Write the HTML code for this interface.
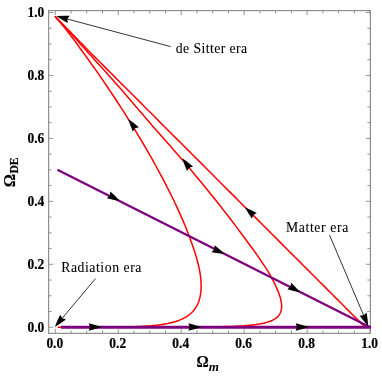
<!DOCTYPE html>
<html><head><meta charset="utf-8"><title>Phase plot</title>
<style>
html,body{margin:0;padding:0;background:#fff;}
svg{display:block;will-change:transform;opacity:0.9999}
text{font-family:"Liberation Serif",serif;fill:#000}
.tl{font-weight:bold;font-size:14.4px;stroke:#000;stroke-width:0.2px}
.an{font-size:13.7px;stroke:#000;stroke-width:0.08px}
.ax{font-weight:bold;font-size:16.8px;stroke:#000;stroke-width:0.15px}
.sub{font-weight:bold;font-size:12px;stroke:#000;stroke-width:0.2px}
.subm{font-weight:bold;font-style:italic;font-size:13px}
</style></head><body>
<svg width="382" height="382" viewBox="0 0 382 382">
<rect width="382" height="382" fill="#fff"/>
<rect x="48.65" y="10.6" width="321.75" height="322.75" fill="none" stroke="#8a8a8a" stroke-width="1.15"/>
<path d="M55.30 333.35v-4.6M55.30 10.6v4.6M48.65 327.25h4.6M370.4 327.25h-4.6M71.04 333.35v-3.0M71.04 10.6v3.0M48.65 311.51h3.0M370.4 311.51h-3.0M86.78 333.35v-3.0M86.78 10.6v3.0M48.65 295.77h3.0M370.4 295.77h-3.0M102.52 333.35v-3.0M102.52 10.6v3.0M48.65 280.04h3.0M370.4 280.04h-3.0M118.26 333.35v-4.6M118.26 10.6v4.6M48.65 264.30h4.6M370.4 264.30h-4.6M134.00 333.35v-3.0M134.00 10.6v3.0M48.65 248.56h3.0M370.4 248.56h-3.0M149.74 333.35v-3.0M149.74 10.6v3.0M48.65 232.82h3.0M370.4 232.82h-3.0M165.48 333.35v-3.0M165.48 10.6v3.0M48.65 217.09h3.0M370.4 217.09h-3.0M181.22 333.35v-4.6M181.22 10.6v4.6M48.65 201.35h4.6M370.4 201.35h-4.6M196.96 333.35v-3.0M196.96 10.6v3.0M48.65 185.61h3.0M370.4 185.61h-3.0M212.70 333.35v-3.0M212.70 10.6v3.0M48.65 169.88h3.0M370.4 169.88h-3.0M228.44 333.35v-3.0M228.44 10.6v3.0M48.65 154.14h3.0M370.4 154.14h-3.0M244.18 333.35v-4.6M244.18 10.6v4.6M48.65 138.40h4.6M370.4 138.40h-4.6M259.92 333.35v-3.0M259.92 10.6v3.0M48.65 122.66h3.0M370.4 122.66h-3.0M275.66 333.35v-3.0M275.66 10.6v3.0M48.65 106.92h3.0M370.4 106.92h-3.0M291.40 333.35v-3.0M291.40 10.6v3.0M48.65 91.19h3.0M370.4 91.19h-3.0M307.14 333.35v-4.6M307.14 10.6v4.6M48.65 75.45h4.6M370.4 75.45h-4.6M322.88 333.35v-3.0M322.88 10.6v3.0M48.65 59.71h3.0M370.4 59.71h-3.0M338.62 333.35v-3.0M338.62 10.6v3.0M48.65 43.97h3.0M370.4 43.97h-3.0M354.36 333.35v-3.0M354.36 10.6v3.0M48.65 28.24h3.0M370.4 28.24h-3.0M370.10 333.35v-4.6M370.10 10.6v4.6M48.65 12.50h4.6M370.4 12.50h-4.6" stroke="#8a8a8a" stroke-width="0.9" fill="none"/>
<text x="46.40" y="348.1" class="tl" textLength="16.8" lengthAdjust="spacingAndGlyphs">0.0</text>
<text x="27.50" y="331.85" class="tl" textLength="16.8" lengthAdjust="spacingAndGlyphs">0.0</text>
<text x="109.36" y="348.1" class="tl" textLength="16.8" lengthAdjust="spacingAndGlyphs">0.2</text>
<text x="27.50" y="268.90" class="tl" textLength="16.8" lengthAdjust="spacingAndGlyphs">0.2</text>
<text x="172.32" y="348.1" class="tl" textLength="16.8" lengthAdjust="spacingAndGlyphs">0.4</text>
<text x="27.50" y="205.95" class="tl" textLength="16.8" lengthAdjust="spacingAndGlyphs">0.4</text>
<text x="235.28" y="348.1" class="tl" textLength="16.8" lengthAdjust="spacingAndGlyphs">0.6</text>
<text x="27.50" y="143.00" class="tl" textLength="16.8" lengthAdjust="spacingAndGlyphs">0.6</text>
<text x="298.24" y="348.1" class="tl" textLength="16.8" lengthAdjust="spacingAndGlyphs">0.8</text>
<text x="27.50" y="80.05" class="tl" textLength="16.8" lengthAdjust="spacingAndGlyphs">0.8</text>
<text x="361.20" y="348.1" class="tl" textLength="16.8" lengthAdjust="spacingAndGlyphs">1.0</text>
<text x="27.50" y="17.10" class="tl" textLength="16.8" lengthAdjust="spacingAndGlyphs">1.0</text>
<path d="M196.3 327.2 L198.3 327.2 L200.2 327.2 L202.2 327.2 L204.2 327.2 L206.2 327.2 L208.2 327.2 L210.2 327.2 L212.1 327.2 L214.1 327.2 L216.1 327.2 L218.1 327.2 L220.1 327.2 L222.1 327.2 L224.0 327.2 L226.0 327.2 L228.0 327.2 L229.9 327.2 L231.9 327.2 L233.8 327.2 L235.8 327.2 L237.7 327.2 L239.6 327.2 L241.5 327.2 L243.4 327.2 L245.3 327.2 L247.2 327.2 L249.1 327.2 L250.9 327.2 L252.8 327.2 L254.6 327.2 L256.4 327.2 L258.2 327.2 L260.0 327.2 L261.8 327.2 L263.6 327.2 L265.3 327.2 L267.0 327.2 L268.8 327.2 L270.5 327.2 L272.1 327.2 L273.8 327.2 L275.4 327.2 L277.1 327.2 L278.7 327.2 L280.3 327.2 L281.9 327.2 L283.4 327.2 L285.0 327.2 L286.5 327.2 L288.0 327.2 L289.5 327.2 L290.9 327.2 L292.4 327.2 L293.8 327.2 L295.2 327.2 L296.6 327.2 L298.0 327.2 L299.3 327.2 L300.6 327.2 L301.9 327.2 L303.2 327.2 L304.5 327.2 L305.8 327.2 L307.0 327.2 L308.2 327.2 L309.4 327.2 L310.6 327.2 L311.7 327.2 L312.8 327.2 L314.0 327.2 L315.1 327.2 L316.1 327.2 L317.2 327.2 L318.2 327.2 L319.3 327.2 L320.3 327.2 L321.2 327.2 L322.2 327.2 L323.2 327.2 L324.1 327.2 L325.0 327.2 L325.9 327.2 L326.8 327.2 L327.7 327.2 L328.5 327.2 L329.3 327.2 L330.2 327.2 L331.0 327.2 L331.7 327.2 L332.5 327.2 L333.3 327.2 L334.0 327.2 L334.7 327.2 L335.4 327.2 L336.1 327.2 L336.8 327.2 L337.5 327.2 L338.1 327.2 L338.8 327.2 L339.4 327.2 L340.0 327.2 L340.6 327.2 L341.2 327.2 L341.8 327.2 L342.3 327.2 L342.9 327.2 L343.4 327.2 L343.9 327.2 L344.5 327.2 L345.0 327.2 L345.5 327.2 L345.9 327.2 L346.4 327.2 L346.9 327.2 L347.3 327.2 L347.8 327.2 L348.2 327.2 L348.6 327.2 L349.0 327.2 L349.4 327.2 L349.8 327.2 L350.2 327.2 L350.6 327.2 L351.0 327.2 L351.3 327.2 L351.7 327.2 L352.0 327.2 L352.3 327.2 L352.7 327.2 L353.0 327.2 L353.3 327.2 L353.6 327.2 L353.9 327.2 L354.2 327.2 L354.5 327.2 L354.7 327.2 L355.0 327.2 L355.3 327.2 L355.5 327.2 L355.8 327.2 L356.0 327.2 L356.3 327.2 L356.5 327.2 L356.7 327.2 L357.0 327.2 L357.2 327.2 L357.4 327.2 L357.6 327.2 L357.8 327.2 L358.0 327.2 L358.2 327.2 L358.4 327.2 L358.6 327.2 L358.8 327.2 L358.9 327.2 L359.1 327.2 L359.3 327.2 L359.4 327.2 L359.6 327.2 L359.7 327.2 L359.9 327.2 L360.0 327.2 L360.2 327.2 L360.3 327.2 L360.5 327.2 L360.6 327.2 L360.7 327.2 L360.9 327.2 L361.0 327.2 L361.1 327.2 L361.2 327.2 L361.3 327.2 L361.4 327.2 L361.6 327.2 L361.7 327.2 L361.8 327.2 L361.9 327.2 L362.0 327.2 L362.1 327.2 L362.2 327.2 L362.3 327.2 L362.3 327.2 L362.4 327.2 L362.5 327.2 L362.6 327.2 L362.7 327.2 L362.8 327.2 L362.8 327.2 L362.9 327.2 L363.0 327.2 L363.1 327.2 L363.1 327.2 L363.2 327.2 L363.3 327.2 L363.3 327.2 L363.4 327.2 L363.5 327.2 L363.5 327.2 L363.6 327.2 L363.6 327.2 L363.7 327.2 L363.7 327.2 L363.8 327.2 L363.8 327.2 L363.9 327.2 L363.9 327.2 L364.0 327.2 L364.0 327.2 L364.1 327.2 L364.1 327.2 L364.2 327.2 L364.2 327.2 L364.3 327.2 L364.3 327.2 L364.3 327.2 L364.4 327.2 L364.4 327.2 L364.4 327.2 L364.5 327.2 L364.5 327.2 L364.5 327.2 L364.6 327.2 L364.6 327.2 L364.6 327.2 L364.7 327.2 L364.7 327.2 L364.7 327.2 L364.8 327.2 L364.8 327.2 L364.8 327.2 L364.8 327.2 L364.9 327.2 L364.9 327.2 L364.9 327.2 L364.9 327.2 L365.0 327.2 L365.0 327.2 L365.0 327.2 L365.0 327.2 L365.0 327.2 L365.1 327.2 L365.1 327.2 L365.1 327.2 L365.1 327.2 L365.1 327.2 L365.2 327.2 L365.2 327.2 L365.2 327.2 L365.2 327.2 L365.2 327.2 L365.2 327.2 L365.3 327.2 L365.3 327.2 L365.3 327.2 L365.3 327.2 L365.3 327.2 L365.3 327.2 L365.3 327.2 L365.4 327.2 L365.4 327.2 L365.4 327.2 L365.4 327.2 L365.4 327.2 L365.4 327.2 L365.4 327.2 L365.4 327.2 L365.4 327.2 L365.5 327.2 L365.5 327.2 L365.5 327.2 L365.5 327.2 L365.5 327.2 L365.5 327.2 L365.5 327.2 L365.5 327.2 L365.5 327.2 L365.5 327.2 L365.5 327.2 L365.6 327.2 L365.6 327.2 L365.6 327.2 L365.6 327.2 L365.6 327.2 L365.6 327.2 L365.6 327.2 L365.6 327.2 L365.6 327.2 L365.6 327.2 L365.6 327.2 L365.6 327.2 L365.6 327.2 L365.6 327.2 L365.6 327.2 L365.6 327.2 L365.7 327.2 L365.7 327.2 L365.7 327.2 L365.7 327.2 L365.7 327.2 L365.7 327.2 L365.7 327.2 L365.7 327.2 L365.7 327.2 L365.7 327.2 L365.7 327.2 L365.7 327.2 L365.7 327.2 L365.7 327.2 L365.7 327.2 L365.7 327.2 L365.7 327.2 L365.7 327.2 L365.7 327.2 L365.7 327.2 L365.7 327.2 L365.7 327.2 L365.7 327.2 L365.7 327.2 L365.7 327.2 L365.7 327.2 L365.7 327.2 L365.8 327.2 L365.8 327.2 L365.8 327.2 L365.8 327.2 L365.8 327.2 L365.8 327.2 L365.8 327.2 L365.8 327.2 L365.8 327.2 L365.8 327.2 L365.8 327.2 L365.8 327.2 L365.8 327.2 L365.8 327.2 L365.8 327.2 L365.8 327.2 L365.8 327.2 L365.8 327.2 L365.8 327.2 L365.8 327.2 L365.8 327.2 L365.8 327.2 L365.8 327.2 L365.8 327.2 L365.8 327.2 L365.8 327.2 L365.8 327.2 L365.8 327.2 L365.8 327.2 L365.8 327.2 L365.8 327.2 L365.8 327.2 L365.8 327.2 L365.8 327.2 L365.8 327.2 L365.8 327.2 L365.8 327.2 L365.8 327.2 L365.8 327.2 L365.8 327.2 L365.8 327.2 L365.8 327.2 L365.8 327.2 L365.8 327.2 L365.8 327.2 L365.8 327.2 L365.8 327.2 L365.8 327.2 L365.8 327.2 L365.8 327.2 L365.8 327.2 L365.8 327.2 L365.8 327.2 L365.8 327.2 L365.8 327.2 L365.8 327.2 L365.8 327.2 L365.8 327.2 L365.8 327.2 L365.8 327.2 L365.8 327.2 L365.8 327.2 L365.8 327.2 L365.8 327.2 L365.8 327.2 L365.8 327.2 L365.8 327.2 L365.8 327.2 L365.8 327.2 L365.8 327.2 L365.8 327.2 L365.8 327.2 L365.8 327.2 L365.8 327.2 L365.8 327.2 L365.8 327.2 L365.8 327.2 L365.8 327.2 L365.8 327.2 L365.1 327.2 L365.1 327.2 L365.1 327.2 L365.1 327.2 L365.1 327.2 L365.1 327.2 L365.1 327.2 L365.1 327.2 L365.1 327.2 L365.1 327.2 L365.1 327.2 L365.1 327.2 L365.1 327.2 L365.1 327.2 L365.1 327.2 L365.1 327.2 L365.1 327.2 L365.1 327.2 L365.1 327.2 L365.1 327.2 L365.1 327.2 L365.1 327.2 L365.1 327.2 L365.1 327.2 L365.1 327.2 L365.1 327.2 L365.1 327.2 L365.1 327.2 L365.1 327.2 L365.1 327.2 L365.1 327.2 L365.1 327.2 L365.1 327.2 L365.1 327.2 L365.1 327.2 L365.1 327.2 L365.1 327.2 L365.1 327.2 L365.1 327.2 L365.1 327.2 L365.1 327.2 L365.0 327.2 L365.0 327.1 L365.0 327.1 L365.0 327.1 L365.0 327.1 L365.0 327.1 L365.0 327.1 L365.0 327.1 L365.0 327.1 L365.0 327.1 L364.9 327.0 L364.9 327.0 L364.9 327.0 L364.9 327.0 L364.9 327.0 L364.8 326.9 L364.8 326.9 L364.8 326.9 L364.8 326.9 L364.7 326.8 L364.7 326.8 L364.7 326.8 L364.6 326.7 L364.6 326.7 L364.5 326.6 L364.5 326.6 L364.4 326.5 L364.4 326.5 L364.3 326.4 L364.3 326.4 L364.2 326.3 L364.1 326.2 L364.0 326.1 L363.9 326.0 L363.8 325.9 L363.7 325.8 L363.6 325.7 L363.5 325.6 L363.4 325.5 L363.2 325.3 L363.1 325.2 L362.9 325.0 L362.7 324.8 L362.6 324.7 L362.3 324.4 L362.1 324.2 L361.9 324.0 L361.6 323.7 L361.4 323.5 L361.1 323.2 L360.7 322.8 L360.4 322.5 L360.0 322.1 L359.6 321.7 L359.2 321.3 L358.7 320.8 L358.2 320.3 L357.7 319.8 L357.1 319.2 L356.5 318.6 L355.8 317.9 L355.1 317.2 L354.3 316.4 L353.4 315.6 L352.6 314.7 L351.6 313.7 L350.6 312.7 L349.5 311.6 L348.3 310.4 L347.0 309.1 L345.6 307.8 L344.2 306.3 L342.6 304.8 L341.0 303.1 L339.2 301.3 L337.3 299.4 L335.3 297.4 L333.2 295.3 L330.9 293.0 L328.5 290.6 L326.0 288.1 L323.3 285.4 L320.4 282.5 L317.4 279.5 L314.2 276.3 L310.9 273.0 L307.3 269.4 L303.6 265.7 L299.8 261.9 L295.7 257.8 L291.5 253.6 L287.1 249.2 L282.5 244.6 L277.8 239.9 L272.9 235.0 L267.8 229.9 L262.6 224.7 L257.3 219.4 L251.8 213.9 L246.2 208.4 L240.6 202.7 L234.8 196.9 L229.0 191.1 L223.1 185.2 L217.1 179.2 L211.2 173.3 L205.2 167.3 L199.3 161.4 L193.4 155.5 L187.5 149.6 L181.7 143.8 L176.0 138.1 L170.3 132.5 L164.8 127.0 L159.4 121.6 L154.2 116.3 L149.1 111.2 L144.1 106.2 L139.3 101.4 L134.6 96.8 L130.2 92.3 L125.9 88.0 L121.7 83.9 L117.8 79.9 L114.0 76.1 L110.4 72.5 L107.0 69.1 L103.7 65.9 L100.6 62.8 L97.7 59.8 L94.9 57.1 L92.3 54.5 L89.9 52.0 L87.6 49.7 L85.5 47.5 L83.5 45.4 L81.6 43.5 L79.8 41.7 L78.2 40.0 L76.6 38.4 L75.2 36.9 L73.8 35.5 L72.5 34.2 L71.3 32.9 L70.2 31.8 L69.2 30.7 L68.2 29.8 L67.3 28.8 L66.4 28.0 L65.7 27.2 L64.9 26.4 L64.2 25.7 L63.6 25.1 L63.0 24.5 L62.5 23.9 L61.9 23.4 L61.5 22.9 L61.0 22.5 L60.6 22.1 L60.2 21.7 L59.9 21.3 L59.5 21.0 L59.2 20.7 L58.9 20.4 L58.7 20.1 L58.4 19.9 L58.2 19.6 L58.0 19.4 L57.8 19.2 L57.6 19.1 L57.4 18.9 L57.3 18.7 L57.1 18.6 L57.0 18.4 L56.9 18.3 L56.8 18.2 L56.7 18.1 L56.6 18.0 L56.5 17.9 L56.4 17.8 L56.3 17.7 L56.2 17.7 L56.2 17.6 L56.1 17.5 L56.0 17.5 L56.0 17.4 L55.9 17.4 L55.9 17.3 L55.8 17.3 L55.8 17.2 L55.8 17.2 L55.7 17.2 L55.7 17.1 L55.7 17.1 L55.6 17.1 L55.6 17.1 L55.6 17.0 L55.6 17.0 L55.6 17.0 L55.5 17.0 L55.5 17.0 L55.5 16.9 L55.5 16.9 L55.5 16.9 L55.5 16.9 L55.4 16.9 L55.4 16.9 L55.4 16.9 L55.4 16.9 L55.4 16.9 L55.4 16.8 L55.4 16.8 L55.4 16.8 L55.4 16.8 L55.4 16.8 L55.4 16.8 L55.4 16.8 L55.4 16.8 L55.4 16.8 L55.4 16.8 L55.3 16.8 L55.3 16.8 L55.3 16.8 L55.3 16.8 L55.3 16.8 L55.3 16.8 L55.3 16.8 L55.3 16.8 L55.3 16.8 L55.3 16.8 L55.3 16.8 L55.3 16.8 L55.3 16.8 L55.3 16.8 L55.3 16.8 L55.3 16.8 L55.3 16.8 L55.3 16.8 L55.3 16.8 L55.3 16.8 L55.3 16.8 L55.3 16.8 L55.3 16.8 L55.3 16.8 L55.3 16.8 L55.3 16.8 L55.3 16.8 L55.3 16.8 L55.3 16.8 L55.3 16.8 L55.3 16.8 L55.3 16.8 L55.3 16.8 L55.3 16.8 L55.3 16.8 L55.3 16.8 L55.3 16.8 L55.3 16.8 L55.3 16.8 L55.3 16.8 L55.3 16.8 L55.3 16.8 L55.3 16.8 L55.3 16.8 L55.3 16.8 L55.3 16.8 L55.3 16.8 L55.3 16.8 L55.3 16.8 L55.3 16.8 L55.3 16.8 L55.3 16.8 L55.3 16.7 L55.3 16.7 L55.3 16.7 L55.3 16.7 L55.3 16.7 L55.3 16.7 L55.3 16.7 L55.3 16.7 L55.3 16.7 L55.3 16.7 L55.3 16.7 L55.3 16.7 L55.3 16.7 L55.3 16.7 L55.3 16.7 L55.3 16.7 L55.3 16.7 L55.3 16.7 L55.3 16.7 L55.3 16.7 L55.3 16.7 L55.3 16.7 L55.3 16.7 L55.3 16.7 L55.3 16.7 L55.3 16.7 L55.3 16.7 L55.3 16.7 L55.3 16.7 L55.3 16.7 L55.3 16.7 L55.3 16.7 L55.3 16.7 L55.3 16.7 L55.3 16.7 L55.3 16.7 L55.3 16.7 L55.3 16.7 L55.3 16.7 L55.3 16.7 L55.3 16.7 L55.3 16.7 L55.3 16.7 L55.3 16.7 L55.3 16.7 L55.3 16.7 L55.3 16.7 L55.3 16.7 L55.3 16.7 L55.3 16.7 L55.3 16.7 L55.3 16.7 L55.3 16.7 L55.3 16.7 L55.3 16.7 L55.3 16.7 L55.3 16.7 L55.3 16.7 L55.3 16.7 L55.3 16.7 L55.3 16.7 L55.3 16.7 L55.3 16.7 L55.3 16.7 L55.3 16.7 L55.3 16.7 L55.3 16.7 L55.3 16.7 L55.3 16.7 L55.3 16.7 L55.3 16.7 L55.3 16.7 L55.3 16.7 L55.3 16.7 L55.3 16.7 L55.3 16.7 L55.3 16.7 L55.3 16.7 L55.3 16.7 L55.3 16.7 L55.3 16.7 L55.3 16.7 L55.3 16.7 L55.3 16.7 L55.3 16.7 L55.3 16.7 L55.3 16.7 L55.3 16.7 L55.3 16.7 L55.3 16.7 L55.3 16.7 L55.3 16.7 L55.3 16.7 L55.3 16.7 L55.3 16.7 L55.3 16.7 L55.3 16.7 L55.3 16.7 L55.3 16.7 L55.3 16.7 L55.3 16.7 L55.3 16.7 L55.3 16.7 L55.3 16.7 L55.3 16.7 L55.3 16.7 L55.3 16.7 L55.3 16.7 L55.3 16.7 L55.3 16.7 L55.3 16.7 L55.3 16.7 L55.3 16.7 L55.3 16.7 L55.3 16.7 L55.3 16.7 L55.3 16.7 L55.3 16.7 L55.3 16.7 L55.3 16.7 L55.3 16.7 L55.3 16.7 L55.3 16.7 L55.3 16.7 L55.3 16.7 L55.3 16.7 L55.3 16.7 L55.3 16.7 L55.3 16.7 L55.3 16.7 L55.3 16.7 L55.3 16.7 L55.3 16.7 L55.3 16.7 L55.3 16.7 L55.3 16.7 L55.3 16.7 L55.3 16.7 L55.3 16.7 L55.3 16.7 L55.3 16.7 L55.3 16.7 L55.3 16.7 L55.3 16.7 L55.3 16.7 L55.3 16.7 L55.3 16.7 L55.3 16.7 L55.3 16.7 L55.3 16.7 L55.3 16.7 L55.3 16.7 L55.3 16.7 L55.3 16.7 L55.3 16.7 L55.3 16.7 L55.3 16.7 L55.3 16.7 L55.3 16.7 L55.3 16.7 L55.3 16.7 L55.3 16.7 L55.3 16.7 L55.3 16.7 L55.3 16.7 L55.3 16.7 L55.3 16.7 L55.3 16.7 L55.3 16.7 L55.3 16.7 L55.3 16.7 L55.3 16.7 L55.3 16.7 L55.3 16.7 L55.3 16.7 L55.3 16.7 L55.3 16.7 L55.3 16.7 L55.3 16.7 L55.3 16.7 L55.3 16.7 L55.3 16.7 L55.3 16.7 L55.3 16.7 L55.3 16.7 L55.3 16.7" stroke="#ff0000" stroke-width="1.5" fill="none" stroke-linejoin="round" stroke-linecap="round"/>
<path d="M111.0 327.2 L112.2 327.2 L113.4 327.2 L114.6 327.2 L115.9 327.2 L117.1 327.2 L118.4 327.2 L119.7 327.2 L121.0 327.2 L122.4 327.2 L123.7 327.2 L125.1 327.2 L126.5 327.2 L127.9 327.2 L129.3 327.2 L130.8 327.2 L132.2 327.2 L133.7 327.2 L135.2 327.2 L136.8 327.2 L138.3 327.2 L139.9 327.2 L141.5 327.2 L143.1 327.2 L144.7 327.2 L146.3 327.2 L148.0 327.2 L149.7 327.2 L151.3 327.2 L153.0 327.2 L154.8 327.2 L156.5 327.2 L158.3 327.2 L160.0 327.2 L161.8 327.2 L163.6 327.2 L165.4 327.2 L167.2 327.2 L169.1 327.2 L170.9 327.2 L172.8 327.2 L174.7 327.2 L176.5 327.2 L178.4 327.2 L180.3 327.2 L182.2 327.2 L184.2 327.2 L186.1 327.1 L188.0 327.1 L190.0 327.1 L191.9 327.1 L193.9 327.1 L195.8 327.1 L197.8 327.1 L199.8 327.1 L201.7 327.0 L203.7 327.0 L205.7 327.0 L207.6 327.0 L209.6 326.9 L211.6 326.9 L213.6 326.9 L215.5 326.9 L217.5 326.8 L219.4 326.8 L221.4 326.7 L223.3 326.7 L225.3 326.6 L227.2 326.6 L229.1 326.5 L231.0 326.4 L232.9 326.4 L234.8 326.3 L236.7 326.2 L238.6 326.1 L240.4 326.0 L242.2 325.9 L244.0 325.8 L245.8 325.6 L247.6 325.5 L249.4 325.3 L251.1 325.2 L252.8 325.0 L254.5 324.8 L256.1 324.6 L257.7 324.3 L259.3 324.1 L260.9 323.8 L262.4 323.5 L263.9 323.2 L265.4 322.8 L266.8 322.4 L268.1 322.0 L269.5 321.5 L270.7 321.0 L272.0 320.5 L273.1 319.9 L274.2 319.3 L275.3 318.6 L276.3 317.9 L277.2 317.1 L278.0 316.3 L278.8 315.4 L279.5 314.4 L280.1 313.3 L280.6 312.2 L281.0 310.9 L281.3 309.6 L281.5 308.2 L281.6 306.6 L281.6 305.0 L281.4 303.2 L281.1 301.4 L280.7 299.3 L280.2 297.2 L279.4 294.9 L278.6 292.5 L277.5 289.9 L276.3 287.1 L274.9 284.2 L273.4 281.1 L271.6 277.8 L269.7 274.3 L267.5 270.6 L265.1 266.8 L262.4 262.8 L259.5 258.6 L256.4 254.1 L253.1 249.5 L249.6 244.8 L245.9 239.8 L242.2 234.7 L238.2 229.4 L234.1 223.9 L229.9 218.3 L225.4 212.6 L220.9 206.8 L216.2 200.8 L211.3 194.8 L206.4 188.7 L201.4 182.6 L196.3 176.4 L191.2 170.2 L185.9 164.1 L180.7 157.9 L175.4 151.9 L170.1 145.8 L164.9 139.9 L159.7 134.1 L154.7 128.4 L149.8 122.8 L145.1 117.3 L140.6 112.0 L136.2 106.9 L132.0 101.9 L127.9 97.2 L123.9 92.5 L120.0 88.1 L116.3 83.9 L112.7 79.8 L109.3 76.0 L106.0 72.3 L102.8 68.8 L99.8 65.5 L97.0 62.4 L94.3 59.4 L91.7 56.6 L89.3 54.0 L87.1 51.5 L85.0 49.1 L83.1 46.9 L81.2 44.9 L79.5 42.9 L77.9 41.1 L76.4 39.4 L74.9 37.8 L73.6 36.4 L72.4 35.0 L71.2 33.7 L70.1 32.5 L69.1 31.4 L68.1 30.3 L67.2 29.3 L66.4 28.4 L65.6 27.6 L64.9 26.8 L64.2 26.1 L63.6 25.4 L63.0 24.8 L62.4 24.2 L61.9 23.6 L61.5 23.1 L61.0 22.7 L60.6 22.2 L60.2 21.8 L59.9 21.5 L59.5 21.1 L59.2 20.8 L58.9 20.5 L58.7 20.2 L58.4 20.0 L58.2 19.7 L58.0 19.5 L57.8 19.3 L57.6 19.1 L57.4 18.9 L57.3 18.8 L57.1 18.6 L57.0 18.5 L56.9 18.4 L56.8 18.2 L56.7 18.1 L56.6 18.0 L56.5 17.9 L56.4 17.8 L56.3 17.8 L56.2 17.7 L56.2 17.6 L56.1 17.6 L56.0 17.5 L56.0 17.4 L55.9 17.4 L55.9 17.3 L55.8 17.3 L55.8 17.3 L55.8 17.2 L55.7 17.2 L55.7 17.2 L55.7 17.1 L55.6 17.1 L55.6 17.1 L55.6 17.0 L55.6 17.0 L55.6 17.0 L55.5 17.0 L55.5 17.0 L55.5 17.0 L55.5 16.9 L55.5 16.9 L55.5 16.9 L55.4 16.9 L55.4 16.9 L55.4 16.9 L55.4 16.9 L55.4 16.9 L55.4 16.8 L55.4 16.8 L55.4 16.8 L55.4 16.8 L55.4 16.8 L55.4 16.8 L55.4 16.8 L55.4 16.8 L55.4 16.8 L55.4 16.8 L55.3 16.8 L55.3 16.8 L55.3 16.8 L55.3 16.8 L55.3 16.8 L55.3 16.8 L55.3 16.8 L55.3 16.8 L55.3 16.8 L55.3 16.8 L55.3 16.8 L55.3 16.8 L55.3 16.8 L55.3 16.8 L55.3 16.8 L55.3 16.8 L55.3 16.8 L55.3 16.8 L55.3 16.8 L55.3 16.8 L55.3 16.8 L55.3 16.8 L55.3 16.8 L55.3 16.8 L55.3 16.8 L55.3 16.8 L55.3 16.8 L55.3 16.8 L55.3 16.8 L55.3 16.8 L55.3 16.8 L55.3 16.8 L55.3 16.8 L55.3 16.8 L55.3 16.8 L55.3 16.8 L55.3 16.8 L55.3 16.8 L55.3 16.8 L55.3 16.8 L55.3 16.8 L55.3 16.8 L55.3 16.8 L55.3 16.8 L55.3 16.8 L55.3 16.8 L55.3 16.8 L55.3 16.8 L55.3 16.8 L55.3 16.8 L55.3 16.8 L55.3 16.8 L55.3 16.7 L55.3 16.7 L55.3 16.7 L55.3 16.7 L55.3 16.7 L55.3 16.7 L55.3 16.7 L55.3 16.7 L55.3 16.7 L55.3 16.7 L55.3 16.7 L55.3 16.7 L55.3 16.7 L55.3 16.7 L55.3 16.7 L55.3 16.7 L55.3 16.7 L55.3 16.7 L55.3 16.7 L55.3 16.7 L55.3 16.7 L55.3 16.7 L55.3 16.7 L55.3 16.7 L55.3 16.7 L55.3 16.7 L55.3 16.7 L55.3 16.7 L55.3 16.7 L55.3 16.7 L55.3 16.7 L55.3 16.7 L55.3 16.7 L55.3 16.7 L55.3 16.7 L55.3 16.7 L55.3 16.7 L55.3 16.7 L55.3 16.7 L55.3 16.7 L55.3 16.7 L55.3 16.7 L55.3 16.7 L55.3 16.7 L55.3 16.7 L55.3 16.7 L55.3 16.7 L55.3 16.7 L55.3 16.7 L55.3 16.7 L55.3 16.7 L55.3 16.7 L55.3 16.7 L55.3 16.7 L55.3 16.7 L55.3 16.7 L55.3 16.7 L55.3 16.7 L55.3 16.7 L55.3 16.7 L55.3 16.7 L55.3 16.7 L55.3 16.7 L55.3 16.7 L55.3 16.7 L55.3 16.7 L55.3 16.7 L55.3 16.7 L55.3 16.7 L55.3 16.7 L55.3 16.7 L55.3 16.7 L55.3 16.7 L55.3 16.7 L55.3 16.7 L55.3 16.7 L55.3 16.7 L55.3 16.7 L55.3 16.7 L55.3 16.7 L55.3 16.7 L55.3 16.7 L55.3 16.7 L55.3 16.7 L55.3 16.7 L55.3 16.7 L55.3 16.7 L55.3 16.7 L55.3 16.7 L55.3 16.7 L55.3 16.7 L55.3 16.7 L55.3 16.7 L55.3 16.7 L55.3 16.7 L55.3 16.7 L55.3 16.7 L55.3 16.7 L55.3 16.7 L55.3 16.7 L55.3 16.7 L55.3 16.7 L55.3 16.7 L55.3 16.7 L55.3 16.7 L55.3 16.7 L55.3 16.7 L55.3 16.7 L55.3 16.7 L55.3 16.7 L55.3 16.7 L55.3 16.7 L55.3 16.7 L55.3 16.7 L55.3 16.7 L55.3 16.7 L55.3 16.7 L55.3 16.7 L55.3 16.7 L55.3 16.7 L55.3 16.7 L55.3 16.7 L55.3 16.7 L55.3 16.7 L55.3 16.7 L55.3 16.7 L55.3 16.7 L55.3 16.7 L55.3 16.7 L55.3 16.7 L55.3 16.7 L55.3 16.7 L55.3 16.7 L55.3 16.7 L55.3 16.7 L55.3 16.7 L55.3 16.7 L55.3 16.7 L55.3 16.7 L55.3 16.7 L55.3 16.7 L55.3 16.7 L55.3 16.7 L55.3 16.7 L55.3 16.7 L55.3 16.7 L55.3 16.7 L55.3 16.7 L55.3 16.7 L55.3 16.7 L55.3 16.7 L55.3 16.7 L55.3 16.7 L55.3 16.7 L55.3 16.7 L55.3 16.7 L55.3 16.7 L55.3 16.7 L55.3 16.7 L55.3 16.7 L55.3 16.7 L55.3 16.7 L55.3 16.7 L55.3 16.7 L55.3 16.7 L55.3 16.7 L55.3 16.7 L55.3 16.7 L55.3 16.7 L55.3 16.7 L55.3 16.7 L55.3 16.7 L55.3 16.7 L55.3 16.7 L55.3 16.7 L55.3 16.7 L55.3 16.7 L55.3 16.7 L55.3 16.7 L55.3 16.7 L55.3 16.7 L55.3 16.7 L55.3 16.7 L55.3 16.7 L55.3 16.7 L55.3 16.7" stroke="#ff0000" stroke-width="1.5" fill="none" stroke-linejoin="round" stroke-linecap="round"/>
<path d="M110.0 327.2 L111.2 327.1 L112.4 327.1 L113.6 327.1 L114.8 327.1 L116.0 327.1 L117.3 327.1 L118.5 327.1 L119.8 327.0 L121.1 327.0 L122.5 327.0 L123.8 327.0 L125.2 327.0 L126.6 326.9 L128.0 326.9 L129.4 326.9 L130.9 326.8 L132.3 326.8 L133.8 326.7 L135.3 326.7 L136.8 326.6 L138.3 326.5 L139.9 326.5 L141.4 326.4 L143.0 326.3 L144.6 326.2 L146.2 326.1 L147.8 326.0 L149.5 325.9 L151.1 325.8 L152.8 325.6 L154.4 325.4 L156.1 325.3 L157.8 325.1 L159.5 324.9 L161.2 324.6 L162.8 324.4 L164.5 324.1 L166.2 323.8 L167.9 323.5 L169.6 323.1 L171.3 322.7 L173.0 322.3 L174.7 321.8 L176.3 321.3 L178.0 320.7 L179.6 320.1 L181.2 319.4 L182.8 318.7 L184.3 317.9 L185.9 317.1 L187.3 316.1 L188.8 315.1 L190.2 314.0 L191.5 312.8 L192.8 311.5 L194.0 310.1 L195.1 308.6 L196.2 306.9 L197.2 305.1 L198.1 303.2 L198.9 301.2 L199.5 299.0 L200.1 296.6 L200.6 294.0 L200.9 291.3 L201.1 288.4 L201.1 285.3 L201.0 281.9 L200.7 278.4 L200.3 274.7 L199.6 270.7 L198.8 266.6 L197.7 262.2 L196.5 257.6 L195.0 252.8 L193.3 247.7 L191.5 242.5 L189.5 237.0 L187.4 231.4 L185.0 225.5 L182.5 219.6 L179.8 213.4 L176.9 207.1 L173.9 200.8 L170.8 194.3 L167.5 187.8 L164.1 181.2 L160.6 174.6 L157.0 168.0 L153.4 161.4 L149.7 154.8 L146.0 148.4 L142.2 142.0 L138.5 135.8 L134.8 129.6 L131.1 123.7 L127.5 117.9 L124.0 112.2 L120.5 106.8 L117.1 101.5 L113.8 96.5 L110.5 91.6 L107.4 87.0 L104.4 82.6 L101.6 78.4 L98.8 74.4 L96.2 70.6 L93.6 67.0 L91.2 63.7 L89.0 60.5 L86.8 57.5 L84.8 54.6 L82.8 52.0 L81.0 49.5 L79.3 47.2 L77.8 45.0 L76.3 43.0 L74.9 41.1 L73.5 39.3 L72.3 37.7 L71.1 36.2 L70.1 34.7 L69.0 33.4 L68.1 32.2 L67.2 31.0 L66.4 30.0 L65.6 29.0 L64.9 28.1 L64.2 27.2 L63.6 26.4 L63.0 25.7 L62.4 25.0 L61.9 24.4 L61.4 23.8 L61.0 23.3 L60.6 22.8 L60.2 22.4 L59.9 21.9 L59.5 21.5 L59.2 21.2 L58.9 20.8 L58.7 20.5 L58.4 20.2 L58.2 20.0 L58.0 19.7 L57.8 19.5 L57.6 19.3 L57.4 19.1 L57.3 18.9 L57.1 18.8 L57.0 18.6 L56.9 18.5 L56.8 18.3 L56.7 18.2 L56.6 18.1 L56.5 18.0 L56.4 17.9 L56.3 17.8 L56.2 17.7 L56.2 17.7 L56.1 17.6 L56.0 17.5 L56.0 17.5 L55.9 17.4 L55.9 17.4 L55.8 17.3 L55.8 17.3 L55.8 17.2 L55.7 17.2 L55.7 17.2 L55.7 17.1 L55.6 17.1 L55.6 17.1 L55.6 17.1 L55.6 17.0 L55.6 17.0 L55.5 17.0 L55.5 17.0 L55.5 17.0 L55.5 16.9 L55.5 16.9 L55.5 16.9 L55.4 16.9 L55.4 16.9 L55.4 16.9 L55.4 16.9 L55.4 16.9 L55.4 16.9 L55.4 16.8 L55.4 16.8 L55.4 16.8 L55.4 16.8 L55.4 16.8 L55.4 16.8 L55.4 16.8 L55.4 16.8 L55.4 16.8 L55.3 16.8 L55.3 16.8 L55.3 16.8 L55.3 16.8 L55.3 16.8 L55.3 16.8 L55.3 16.8 L55.3 16.8 L55.3 16.8 L55.3 16.8 L55.3 16.8 L55.3 16.8 L55.3 16.8 L55.3 16.8 L55.3 16.8 L55.3 16.8 L55.3 16.8 L55.3 16.8 L55.3 16.8 L55.3 16.8 L55.3 16.8 L55.3 16.8 L55.3 16.8 L55.3 16.8 L55.3 16.8 L55.3 16.8 L55.3 16.8 L55.3 16.8 L55.3 16.8 L55.3 16.8 L55.3 16.8 L55.3 16.8 L55.3 16.8 L55.3 16.8 L55.3 16.8 L55.3 16.8 L55.3 16.8 L55.3 16.8 L55.3 16.8 L55.3 16.8 L55.3 16.8 L55.3 16.8 L55.3 16.8 L55.3 16.8 L55.3 16.8 L55.3 16.8 L55.3 16.8 L55.3 16.8 L55.3 16.8 L55.3 16.8 L55.3 16.8 L55.3 16.8 L55.3 16.7 L55.3 16.7 L55.3 16.7 L55.3 16.7 L55.3 16.7 L55.3 16.7 L55.3 16.7 L55.3 16.7 L55.3 16.7 L55.3 16.7 L55.3 16.7 L55.3 16.7 L55.3 16.7 L55.3 16.7 L55.3 16.7 L55.3 16.7 L55.3 16.7 L55.3 16.7 L55.3 16.7 L55.3 16.7 L55.3 16.7 L55.3 16.7 L55.3 16.7 L55.3 16.7 L55.3 16.7 L55.3 16.7 L55.3 16.7 L55.3 16.7 L55.3 16.7 L55.3 16.7 L55.3 16.7 L55.3 16.7 L55.3 16.7 L55.3 16.7 L55.3 16.7 L55.3 16.7 L55.3 16.7 L55.3 16.7 L55.3 16.7 L55.3 16.7 L55.3 16.7 L55.3 16.7 L55.3 16.7 L55.3 16.7 L55.3 16.7 L55.3 16.7 L55.3 16.7 L55.3 16.7 L55.3 16.7 L55.3 16.7 L55.3 16.7 L55.3 16.7 L55.3 16.7 L55.3 16.7 L55.3 16.7 L55.3 16.7 L55.3 16.7 L55.3 16.7 L55.3 16.7 L55.3 16.7 L55.3 16.7 L55.3 16.7 L55.3 16.7 L55.3 16.7 L55.3 16.7 L55.3 16.7 L55.3 16.7 L55.3 16.7 L55.3 16.7 L55.3 16.7 L55.3 16.7 L55.3 16.7 L55.3 16.7 L55.3 16.7 L55.3 16.7 L55.3 16.7 L55.3 16.7 L55.3 16.7 L55.3 16.7 L55.3 16.7 L55.3 16.7 L55.3 16.7 L55.3 16.7 L55.3 16.7 L55.3 16.7 L55.3 16.7 L55.3 16.7 L55.3 16.7 L55.3 16.7 L55.3 16.7 L55.3 16.7 L55.3 16.7 L55.3 16.7 L55.3 16.7 L55.3 16.7 L55.3 16.7 L55.3 16.7 L55.3 16.7 L55.3 16.7 L55.3 16.7 L55.3 16.7 L55.3 16.7 L55.3 16.7 L55.3 16.7 L55.3 16.7 L55.3 16.7 L55.3 16.7 L55.3 16.7 L55.3 16.7 L55.3 16.7 L55.3 16.7 L55.3 16.7 L55.3 16.7 L55.3 16.7 L55.3 16.7 L55.3 16.7 L55.3 16.7 L55.3 16.7 L55.3 16.7 L55.3 16.7 L55.3 16.7 L55.3 16.7 L55.3 16.7 L55.3 16.7 L55.3 16.7 L55.3 16.7 L55.3 16.7 L55.3 16.7 L55.3 16.7 L55.3 16.7 L55.3 16.7 L55.3 16.7 L55.3 16.7 L55.3 16.7 L55.3 16.7 L55.3 16.7 L55.3 16.7 L55.3 16.7 L55.3 16.7 L55.3 16.7 L55.3 16.7 L55.3 16.7 L55.3 16.7 L55.3 16.7 L55.3 16.7 L55.3 16.7 L55.3 16.7 L55.3 16.7 L55.3 16.7 L55.3 16.7 L55.3 16.7 L55.3 16.7 L55.3 16.7 L55.3 16.7 L55.3 16.7 L55.3 16.7 L55.3 16.7 L55.3 16.7 L55.3 16.7 L55.3 16.7 L55.3 16.7 L55.3 16.7 L55.3 16.7 L55.3 16.7 L55.3 16.7 L55.3 16.7 L55.3 16.7 L55.3 16.7 L55.3 16.7 L55.3 16.7 L55.3 16.7 L55.3 16.7 L55.3 16.7 L55.3 16.7 L55.3 16.7 L55.3 16.7 L55.3 16.7 L55.3 16.7 L55.3 16.7 L55.3 16.7 L55.3 16.7 L55.3 16.7 L55.3 16.7 L55.3 16.7 L55.3 16.7 L55.3 16.7" stroke="#ff0000" stroke-width="1.5" fill="none" stroke-linejoin="round" stroke-linecap="round"/>
<path d="M57.8 327.35H115" stroke="#ff0000" stroke-width="1.5" fill="none"/>
<path d="M57.4 169.7L370.1 327.2" stroke="#7f007f" stroke-width="2.4" fill="none"/>
<path d="M61 327.3H370.9" stroke="#7f007f" stroke-width="3" fill="none"/>
<path d="M201.20 327.00 Q194.80 329.32 188.40 330.75 L189.68 327.00 L188.40 323.25 Q194.80 324.68 201.20 327.00Z" fill="#000"/>
<path d="M308.70 327.00 Q302.20 329.32 295.70 330.75 L297.00 327.00 L295.70 323.25 Q302.20 324.68 308.70 327.00Z" fill="#000"/>
<path d="M101.50 327.00 Q95.10 329.32 88.70 330.75 L89.98 327.00 L88.70 323.25 Q95.10 324.68 101.50 327.00Z" fill="#000"/>
<path d="M119.55 200.69 Q112.99 199.83 106.84 198.18 L109.70 195.45 L110.37 191.56 Q115.17 195.72 119.55 200.69Z" fill="#000"/>
<path d="M224.36 253.87 Q217.76 253.41 211.53 252.14 L214.21 249.24 L214.64 245.31 Q219.69 249.18 224.36 253.87Z" fill="#000"/>
<path d="M299.94 292.30 Q293.42 291.16 287.36 289.24 L290.33 286.64 L291.16 282.78 Q295.78 287.15 299.94 292.30Z" fill="#000"/>
<path d="M245.10 207.53 Q251.27 209.95 256.83 213.04 L253.40 215.00 L251.81 218.62 Q248.15 213.41 245.10 207.53Z" fill="#000"/>
<path d="M182.36 158.28 Q188.08 162.15 193.07 166.55 L189.27 167.72 L187.02 170.98 Q184.33 164.90 182.36 158.28Z" fill="#000"/>
<path d="M128.26 118.98 Q133.94 122.83 138.88 127.21 L135.09 128.37 L132.81 131.62 Q130.18 125.56 128.26 118.98Z" fill="#000"/>
<path d="M170.7 46.6L66.36 18.78" stroke="#000" stroke-width="0.8" fill="none"/>
<path d="M56.31 16.10 Q63.10 15.50 69.65 15.77 L67.44 19.07 L67.72 23.02 Q61.90 19.99 56.31 16.10Z" fill="#000"/>
<path d="M95.5 278.6L61.53 319.04" stroke="#000" stroke-width="0.8" fill="none"/>
<path d="M54.84 327.01 Q57.18 320.61 60.20 314.79 L62.25 318.19 L65.95 319.62 Q60.74 323.60 54.84 327.01Z" fill="#000"/>
<path d="M329.5 235L364.09 316.40" stroke="#000" stroke-width="0.8" fill="none"/>
<path d="M368.16 325.97 Q363.51 320.99 359.70 315.65 L363.65 315.37 L366.60 312.72 Q367.79 319.17 368.16 325.97Z" fill="#000"/>
<text x="175.8" y="52.8" class="an" textLength="71.2" lengthAdjust="spacing">de Sitter era</text>
<text x="285.9" y="232" class="an" textLength="62.4" lengthAdjust="spacing">Matter era</text>
<text x="61.2" y="272" class="an" textLength="80.2" lengthAdjust="spacing">Radiation era</text>
<text x="196.6" y="367.1" class="ax" style="font-size:17.4px" textLength="12.2" lengthAdjust="spacingAndGlyphs">Ω</text>
<text x="208.8" y="370.6" class="subm" textLength="10.2" lengthAdjust="spacingAndGlyphs">m</text>
<g transform="translate(15.4,187.3) rotate(-90)"><text x="0" y="0" class="ax" style="font-size:17.2px" textLength="13.3" lengthAdjust="spacingAndGlyphs">Ω</text><text x="13.7" y="2.9" class="sub" textLength="16.1" lengthAdjust="spacingAndGlyphs">DE</text></g>
</svg>
</body></html>
